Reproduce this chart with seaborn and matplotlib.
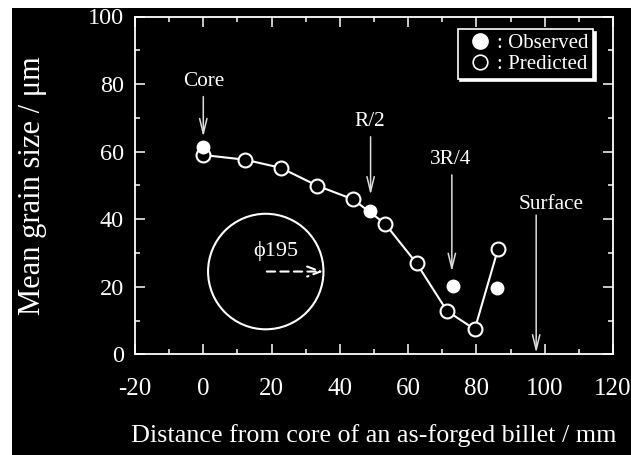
import matplotlib
matplotlib.use("Agg")
import matplotlib.pyplot as plt
from matplotlib.patches import Ellipse, Rectangle
from matplotlib.lines import Line2D
import seaborn as sns
import pandas as pd

# ---- data ----
pred_x = [0, 12.3, 22.7, 33.4, 43.8, 53.2, 62.5, 71.4, 79.5, 86.3]
pred_y = [59.0, 57.6, 55.2, 49.9, 45.9, 38.7, 26.9, 12.8, 7.4, 31.1]
obs_x = [0, 48.7, 73.2, 86.1]
obs_y = [61.5, 42.3, 20.3, 19.7]
x_ticks = [-20, 0, 20, 40, 60, 80, 100, 120]
y_ticks = [0, 20, 40, 60, 80, 100]
labels = ["Core", "R/2", "3R/4", "Surface"]
label_pos = [(0, 80.9), (48.7, 68.9), (72.5, 57.7), (102, 44.2)]
arrow_from = [(0, 76.3), (49, 64.4), (72.8, 53.1), (97.5, 41.2)]
arrow_to = [(0, 64.4), (49, 47.2), (72.8, 24.5), (97.5, 0.4)]

sns.set_theme(style="ticks")
plt.rcParams["font.family"] = ["Liberation Serif", "DejaVu Serif"]
plt.rcParams["axes.unicode_minus"] = False

W, H = 631, 455
fig = plt.figure(figsize=(W / 100, H / 100), dpi=100, facecolor="white")
fig.patches.append(Rectangle((12 / W, 0), 1 - 12 / W, 1 - 8 / H,
                             transform=fig.transFigure, facecolor="black",
                             edgecolor="none", zorder=-10))
ax = fig.add_axes([135 / W, 1 - 354.3 / H, 478 / W, (354.3 - 16.5) / H])
ax.set_facecolor("black")

pred = pd.DataFrame({"x": pred_x, "y": pred_y})
obs = pd.DataFrame({"x": obs_x, "y": obs_y})

sns.lineplot(data=pred, x="x", y="y", sort=False, ax=ax, color="white",
             lw=1.5, marker="o", markersize=10, markerfacecolor="black",
             markeredgecolor="white", markeredgewidth=1.5, zorder=3)
sns.scatterplot(data=obs, x="x", y="y", ax=ax, color="white", s=100,
                edgecolor="white", linewidth=0, zorder=4)

ax.set_xlim(-20, 120)
ax.set_ylim(0, 100)
ax.set_xticks(x_ticks)
ax.set_yticks(y_ticks)
ax.set_xticks(range(-10, 120, 20), minor=True)
ax.set_yticks(range(10, 100, 20), minor=True)
for s in ax.spines.values():
    s.set_color("white")
    s.set_linewidth(1.3)
ax.tick_params(which="both", direction="in", colors="white", top=True,
               right=True, width=1.1)
ax.tick_params(which="major", length=7)
ax.tick_params(which="minor", length=3.5)
ax.tick_params(axis="x", which="major", labelsize=18, pad=17, labelcolor="white")
ax.tick_params(axis="y", which="major", labelsize=17.5, pad=8, labelcolor="white")

ax.set_xlabel("Distance from core of an as-forged billet / mm", fontsize=18.8,
              color="white", labelpad=17)
ax.set_ylabel("Mean grain size / μm", fontsize=22, color="white", labelpad=29)

# annotations
for lab, (tx, ty), (fx, fy), (gx, gy) in zip(labels, label_pos, arrow_from, arrow_to):
    ax.text(tx, ty, lab, color="white", fontsize=15.3, ha="center", va="center")
    ax.annotate("", xy=(gx, gy), xytext=(fx, fy),
                arrowprops=dict(arrowstyle="->,head_length=0.9,head_width=0.22",
                                color="#dcdcdc", lw=1.1, shrinkA=0, shrinkB=0))

# billet cross-section
ax.add_patch(Ellipse((18.3, 24.5), 2 * 16.9, 2 * 17.1, facecolor="none",
                     edgecolor="white", lw=1.5, zorder=2))
ax.annotate("", xy=(35.2, 24.5), xytext=(18.6, 24.5),
            arrowprops=dict(arrowstyle="->,head_length=0.8,head_width=0.3",
                            color="white", lw=1.5, linestyle=(0, (4, 2.5)),
                            shrinkA=0, shrinkB=0))
ax.text(21.2, 30.5, "ϕ195", color="white", fontsize=16, ha="center", va="center")

handles = [
    Line2D([], [], ls="none", marker="o", color="white", markersize=11),
    Line2D([], [], ls="none", marker="o", markerfacecolor="black",
           markeredgecolor="white", markeredgewidth=1.2, markersize=10.5),
]
leg = ax.legend(handles, [": Observed", ": Predicted"], loc="upper right",
                bbox_to_anchor=(0.958, 0.962), fontsize=15, frameon=True,
                fancybox=False, shadow={"color": "white", "alpha": 1},
                handlelength=1.7, handletextpad=0.0, borderpad=0.2,
                labelspacing=0.08, borderaxespad=0)
leg.get_frame().set_facecolor("black")
leg.get_frame().set_edgecolor("white")
leg.get_frame().set_linewidth(1.2)
leg.get_frame().set_alpha(1)
for t in leg.get_texts():
    t.set_color("white")

fig.savefig("out.png", dpi=100, facecolor="white")
